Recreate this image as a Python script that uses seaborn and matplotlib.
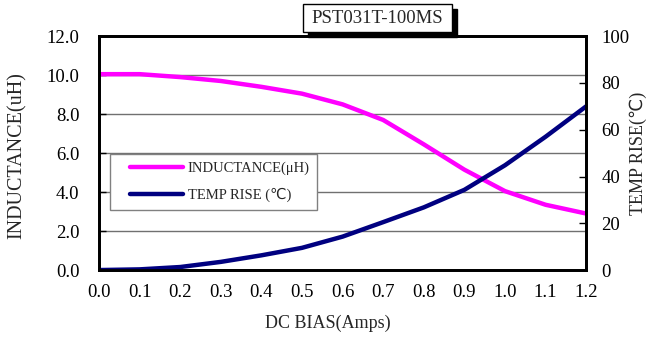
import matplotlib
matplotlib.use('Agg')
import matplotlib.pyplot as plt
from matplotlib.patches import Rectangle
from matplotlib.legend_handler import HandlerLine2D
from matplotlib.ticker import MultipleLocator, FormatStrFormatter
import seaborn as sns
import pandas as pd

# data
dc_bias = [0.0, 0.1, 0.2, 0.3, 0.4, 0.5, 0.6, 0.7, 0.8, 0.9, 1.0, 1.1, 1.2]
inductance = [10.05, 10.05, 9.9, 9.7, 9.4, 9.05, 8.5, 7.7, 6.45, 5.15, 4.05, 3.35, 2.9]
temp_rise = [0.0, 0.3, 1.3, 3.5, 6.3, 9.5, 14.3, 20.5, 26.8, 34.3, 44.8, 57.0, 70.0]

title = 'PST031T-100MS'
left_label = 'INDUCTANCE(uH)'
right_label = 'TEMP RISE(℃)'
x_label = 'DC BIAS(Amps)'
legend_names = ['INDUCTANCE(μH)', 'TEMP RISE (℃)']

df = pd.DataFrame({'bias': dc_bias, 'L': inductance, 'T': temp_rise})

sns.set_style('white')
plt.rcParams['font.family'] = ['Liberation Serif', 'DejaVu Sans', 'Noto Sans CJK SC']

fig = plt.figure(figsize=(6.47, 3.41), dpi=100)
ax = fig.add_axes([0.153, 0.208, 0.753, 0.686])
ax2 = ax.twinx()

# grid lines from left axis
for v in [2, 4, 6, 8, 10]:
    ax.axhline(v, color='#707070', linewidth=1.0, zorder=0)

sns.lineplot(data=df, x='bias', y='L', ax=ax, color='#FF00FF', linewidth=3.2, label=legend_names[0], legend=False)
sns.lineplot(data=df, x='bias', y='T', ax=ax2, color='#000080', linewidth=3.2, label=legend_names[1], legend=False)

ax.set_xlim(0, 1.2)
ax.set_ylim(0, 12)
ax2.set_ylim(0, 100)
ax.xaxis.set_major_locator(MultipleLocator(0.1))
ax.xaxis.set_major_formatter(FormatStrFormatter('%.1f'))
ax.yaxis.set_major_locator(MultipleLocator(2))
ax.yaxis.set_major_formatter(FormatStrFormatter('%.1f'))
ax2.yaxis.set_major_locator(MultipleLocator(20))
ax2.yaxis.set_major_formatter(FormatStrFormatter('%d'))

ax.tick_params(axis='x', direction='in', length=5, width=1, pad=10, labelsize=13.5, colors='black')
ax.tick_params(axis='y', direction='in', length=5, width=1, pad=14, labelsize=13.5, colors='black')
ax2.tick_params(axis='y', direction='in', length=5, width=1, pad=11, labelsize=13.5, colors='black')

for a in (ax, ax2):
    for s in a.spines.values():
        s.set_color('black')
        s.set_linewidth(2)

ax.set_xlabel(x_label, fontsize=13)
ax.set_ylabel(left_label, fontsize=14.5)
ax2.set_ylabel(right_label, fontsize=13)
ax.xaxis.set_label_coords(0.47, -0.19)
ax.yaxis.set_label_coords(-0.148, 0.49)
ax2.yaxis.set_label_coords(1.089, 0.5)

# legend
h1, l1 = ax.get_legend_handles_labels()
h2, l2 = ax2.get_legend_handles_labels()
leg = ax2.legend(h1 + h2, l1 + l2, loc='upper left', bbox_to_anchor=(0.022, 0.496), fontsize=10.5,
                 frameon=True, fancybox=False, edgecolor='#808080', framealpha=1, borderaxespad=0,
                 handlelength=4.5, borderpad=0.5, labelspacing=0.9, handletextpad=0.35,
                 handler_map={h: HandlerLine2D(xpad=0.9) for h in h1 + h2})
leg.get_frame().set_linewidth(1)

# title box with shadow
fig.patches.append(Rectangle((0.476, 0.891), 0.230, 0.082, transform=fig.transFigure,
                             facecolor='black', edgecolor='black', zorder=5))
fig.patches.append(Rectangle((0.468, 0.906), 0.230, 0.082, transform=fig.transFigure,
                             facecolor='white', edgecolor='black', linewidth=1, zorder=6))
fig.text(0.5835, 0.947, title, ha='center', va='center', fontsize=13.5, zorder=7)

fig.savefig('out.png', dpi=100)
